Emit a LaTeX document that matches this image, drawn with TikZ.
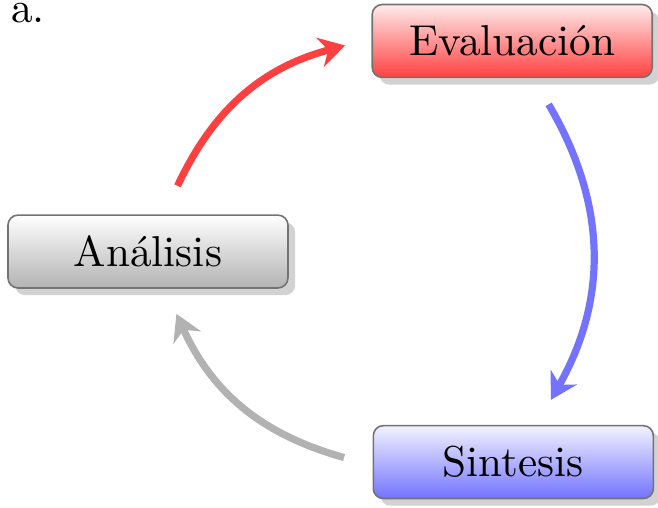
\documentclass[tikz,border=0pt]{standalone}
\usepackage{tikz}
\usetikzlibrary{arrows.meta, shadows, calc}

\begin{document}
\begin{tikzpicture}[
    >={Stealth[length=6.5pt, width=7.5pt]},
    font=\fontsize{10.8}{12}\selectfont,
    box/.style     ={draw=black!55, rounded corners=2.5pt, minimum width=2.46cm,
                     minimum height=0.64cm, inner sep=2pt,
                     drop shadow={shadow xshift=1.8pt, shadow yshift=-1.8pt, fill=black!35}},
    evalbox/.style ={box, top color=red!8, bottom color=red!75},
    anabox/.style  ={box, top color=white, bottom color=black!30},
    sinbox/.style  ={box, top color=blue!5, bottom color=blue!55},
    flow/.style    ={->, line width=1.8pt, bend left=25}
]
\useasboundingbox (0,0) rectangle (5.781,-4.455);

% cut-off text above the picture
\node[anchor=base west, inner sep=0pt] (frag) at (0.09,-0.2) {a.};

% The three stages
\node[evalbox] (eva) at (4.50,-0.36) {Evaluación};
\node[anabox]  (ana) at (1.30,-2.21) {Análisis};
\node[sinbox]  (sin) at (4.51,-4.06) {Sintesis};

% --- Cycle arrows ---
\draw[flow, red!75] ($(ana.north)+(0.26,0.25)$) to ($(eva.west)+(-0.23,-0.04)$);
\draw[flow, blue!55, bend left=30] ($(eva.south)+(0.32,-0.23)$) to ($(sin.north)+(0.33,0.22)$);
\draw[flow, black!30] ($(sin.west)+(-0.25,0.04)$) to ($(ana.south)+(0.25,-0.22)$);

\end{tikzpicture}
\end{document}
